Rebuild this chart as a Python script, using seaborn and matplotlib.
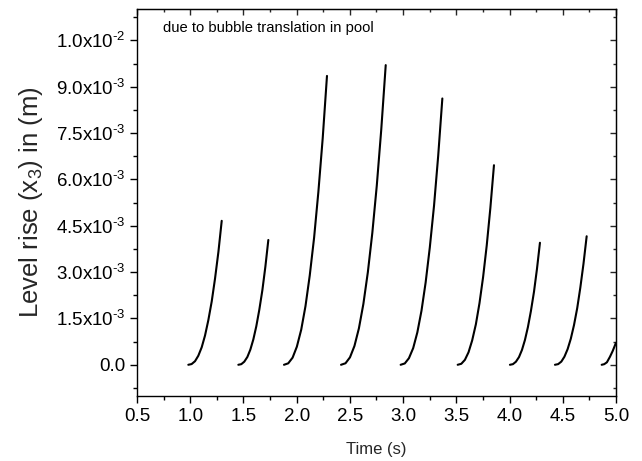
import matplotlib
matplotlib.use("Agg")
import matplotlib.pyplot as plt
from matplotlib.ticker import MultipleLocator, FixedLocator
import numpy as np
import pandas as pd
import seaborn as sns

# Level rise of the pool surface for each bubble cycle (time in s, rise in mm)
cycle1_t = [0.982, 1.013, 1.045, 1.076, 1.108, 1.139, 1.170, 1.202, 1.233, 1.265, 1.296]
cycle1_mm = [0.0, 0.023, 0.115, 0.292, 0.567, 0.946, 1.440, 2.050, 2.787, 3.658, 4.66]

cycle2_t = [1.452, 1.480, 1.508, 1.537, 1.565, 1.593, 1.621, 1.649, 1.678, 1.706, 1.734]
cycle2_mm = [0.0, 0.020, 0.100, 0.253, 0.491, 0.820, 1.248, 1.778, 2.416, 3.171, 4.04]

cycle3_t = [1.881, 1.921, 1.962, 2.002, 2.043, 2.083, 2.123, 2.164, 2.204, 2.245, 2.285]
cycle3_mm = [0.0, 0.047, 0.231, 0.586, 1.137, 1.898, 2.889, 4.114, 5.591, 7.340, 9.35]

cycle4_t = [2.417, 2.459, 2.501, 2.543, 2.585, 2.627, 2.669, 2.711, 2.753, 2.795, 2.837]
cycle4_mm = [0.0, 0.049, 0.240, 0.608, 1.180, 1.969, 2.997, 4.268, 5.801, 7.615, 9.70]

cycle5_t = [2.977, 3.016, 3.055, 3.095, 3.134, 3.173, 3.212, 3.251, 3.291, 3.330, 3.369]
cycle5_mm = [0.0, 0.043, 0.213, 0.540, 1.048, 1.750, 2.664, 3.793, 5.155, 6.767, 8.62]

cycle6_t = [3.513, 3.547, 3.581, 3.615, 3.649, 3.684, 3.718, 3.752, 3.786, 3.820, 3.854]
cycle6_mm = [0.0, 0.032, 0.160, 0.405, 0.786, 1.311, 1.996, 2.842, 3.863, 5.071, 6.46]

cycle7_t = [4.004, 4.032, 4.060, 4.089, 4.117, 4.145, 4.173, 4.201, 4.230, 4.258, 4.286]
cycle7_mm = [0.0, 0.020, 0.098, 0.248, 0.480, 0.802, 1.221, 1.738, 2.362, 3.101, 3.95]

cycle8_t = [4.427, 4.457, 4.487, 4.516, 4.546, 4.576, 4.606, 4.636, 4.665, 4.695, 4.725]
cycle8_mm = [0.0, 0.021, 0.103, 0.261, 0.506, 0.844, 1.285, 1.830, 2.488, 3.266, 4.16]

cycle9_t = [4.866, 4.890, 4.915, 4.944, 4.970, 5.000]
cycle9_mm = [0.0, 0.02, 0.08, 0.26, 0.45, 0.71]

y_ticks = [0.0, 0.0015, 0.0030, 0.0045, 0.0060, 0.0075, 0.0090, 0.0105]
y_tick_labels = ["0.0", r"1.5x10$^{\text{-3}}$", r"3.0x10$^{\text{-3}}$", r"4.5x10$^{\text{-3}}$",
                 r"6.0x10$^{\text{-3}}$", r"7.5x10$^{\text{-3}}$", r"9.0x10$^{\text{-3}}$",
                 r"1.0x10$^{\text{-2}}$"]
x_ticks = [0.5, 1.0, 1.5, 2.0, 2.5, 3.0, 3.5, 4.0, 4.5, 5.0]
x_tick_labels = ["0.5", "1.0", "1.5", "2.0", "2.5", "3.0", "3.5", "4.0", "4.5", "5.0"]

cycles = [
    (cycle1_t, cycle1_mm), (cycle2_t, cycle2_mm), (cycle3_t, cycle3_mm),
    (cycle4_t, cycle4_mm), (cycle5_t, cycle5_mm), (cycle6_t, cycle6_mm),
    (cycle7_t, cycle7_mm), (cycle8_t, cycle8_mm), (cycle9_t, cycle9_mm),
]
frames = []
for k, (t, mm) in enumerate(cycles):
    frames.append(pd.DataFrame({"time": t, "rise": np.asarray(mm) * 1e-3, "cycle": k}))
df = pd.concat(frames, ignore_index=True)

sns.set_style("ticks")
plt.rcParams["font.family"] = ["Liberation Sans", "DejaVu Sans"]
plt.rcParams["mathtext.fontset"] = "custom"
plt.rcParams["mathtext.rm"] = "Liberation Sans"
plt.rcParams["mathtext.it"] = "Liberation Sans:italic"
plt.rcParams["mathtext.bf"] = "Liberation Sans:bold"

fig = plt.figure(figsize=(6.42, 4.61), dpi=100)
ax = fig.add_axes([0.2134, 0.1417, 0.746, 0.8377])

sns.lineplot(data=df, x="time", y="rise", units="cycle", estimator=None,
             color="black", linewidth=1.5, ax=ax, legend=False)

ax.set_xlim(0.5, 5.0)
ax.set_ylim(-0.001, 0.0115)

ax.xaxis.set_major_locator(FixedLocator(x_ticks))
ax.set_xticklabels(x_tick_labels)
ax.xaxis.set_minor_locator(MultipleLocator(0.25))
ax.yaxis.set_major_locator(FixedLocator(y_ticks))
ax.set_yticklabels(y_tick_labels)
ax.yaxis.set_minor_locator(MultipleLocator(0.00075))

for side in ["left", "right", "top", "bottom"]:
    ax.spines[side].set_visible(True)
    ax.spines[side].set_linewidth(1.0)
    ax.spines[side].set_color("black")

ax.tick_params(which="both", direction="out", colors="black", width=1.0,
               top=False, right=False, labelsize=13.5)
ax.tick_params(which="major", length=5)
ax.tick_params(which="minor", length=2.7)
ax.tick_params(axis="x", pad=4)
ax.tick_params(axis="y", pad=3)

# Inward ticks mirrored on the top and right edges
sec_x = ax.secondary_xaxis("top")
sec_x.xaxis.set_major_locator(FixedLocator(x_ticks))
sec_x.xaxis.set_minor_locator(MultipleLocator(0.25))
sec_x.tick_params(which="both", direction="in", labeltop=False, width=1.0)
sec_x.tick_params(which="major", length=4.5)
sec_x.tick_params(which="minor", length=2.4)
sec_y = ax.secondary_yaxis("right")
sec_y.yaxis.set_major_locator(FixedLocator(y_ticks))
sec_y.yaxis.set_minor_locator(MultipleLocator(0.00075))
sec_y.tick_params(which="both", direction="in", labelright=False, width=1.0)
sec_y.tick_params(which="major", length=4.5)
sec_y.tick_params(which="minor", length=2.4)

ax.set_xlabel("Time (s)", fontsize=12, labelpad=12)
ax.set_ylabel("Level rise (x$_3$) in (m)", fontsize=18.5, labelpad=8)

ax.text(0.054, 0.952, "due to bubble translation in pool", transform=ax.transAxes,
        fontsize=10.6, ha="left", va="center", color="black")

fig.savefig("out.png", dpi=100)
